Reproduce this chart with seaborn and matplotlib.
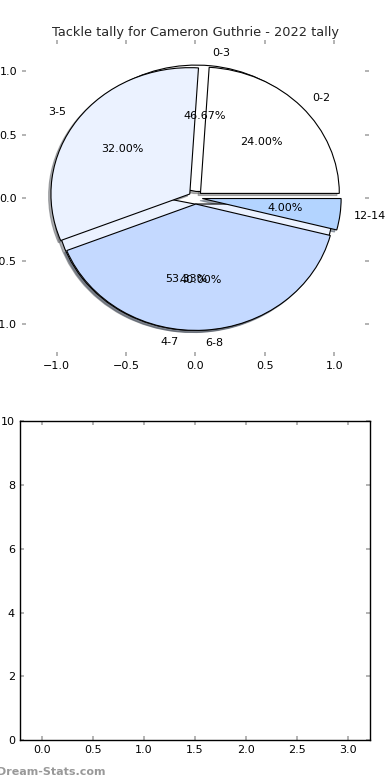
import matplotlib
matplotlib.use('Agg')
import matplotlib.pyplot as plt
import seaborn as sns

# tackle tallies (games per bucket)
ranges_wide = ['0-3', '4-7']
games_wide = [7, 8]
ranges_fine = ['0-2', '3-5', '6-8', '12-14']
games_fine = [6, 8, 10, 1]
wedge_colors = ['#FFFFFF', '#EBF2FF', '#C4D9FF', '#B3D4FF']

sns.set_theme(style='white')
plt.rcParams['font.family'] = ['DejaVu Sans']
plt.rcParams.update({
    'xtick.direction': 'in', 'ytick.direction': 'in',
    'xtick.top': True, 'ytick.right': True,
    'xtick.bottom': True, 'ytick.left': True,
    'xtick.color': '#aaaaaa', 'ytick.color': '#aaaaaa',
    'xtick.labelcolor': 'black', 'ytick.labelcolor': 'black',
    'xtick.major.size': 3, 'ytick.major.size': 3,
    'xtick.labelsize': 8, 'ytick.labelsize': 8,
})

fig = plt.figure(figsize=(3.9, 7.8), dpi=100)
ax1 = fig.add_axes([0.056, 0.544, 0.89, 0.405])
ax2 = fig.add_axes([0.051, 0.051, 0.898, 0.409])

wp = {'edgecolor': 'black', 'linewidth': 0.8}
tp = {'fontsize': 8, 'color': 'black'}
shd = {'ox': -0.012, 'oy': -0.012, 'shade': 0.6}
ax1.pie(games_wide, labels=ranges_wide, colors=wedge_colors[:2], autopct='%1.2f%%',
        explode=[0.05] * len(games_wide), shadow=shd, frame=True,
        wedgeprops=wp, textprops=tp)
ax1.pie(games_fine, labels=ranges_fine, colors=wedge_colors, autopct='%1.2f%%',
        explode=[0.05] * len(games_fine), shadow=shd, frame=True,
        wedgeprops=wp, textprops=tp)
ax1.set_aspect('auto')
ax1.set_xlim(-1.25, 1.25)
ax1.set_ylim(-1.25, 1.25)
ax1.set_xticks([-1.0, -0.5, 0.0, 0.5, 1.0])
ax1.set_yticks([-1.0, -0.5, 0.0, 0.5, 1.0])
for s in ax1.spines.values():
    s.set_visible(False)
ax1.set_title('Tackle tally for Cameron Guthrie - 2022 tally', fontsize=9.3, pad=3)

ax2.set_xlim(-0.22, 3.22)
ax2.set_ylim(0, 10)
ax2.set_xticks([0.0, 0.5, 1.0, 1.5, 2.0, 2.5, 3.0])
ax2.set_yticks([0, 2, 4, 6, 8, 10])
for s in ax2.spines.values():
    s.set_visible(True)
    s.set_color('black')
    s.set_linewidth(1.0)

fig.text(-0.008, 0.007, 'Dream-Stats.com', color='#999999', fontsize=8, fontweight='bold')

fig.savefig('out.png', dpi=100)
